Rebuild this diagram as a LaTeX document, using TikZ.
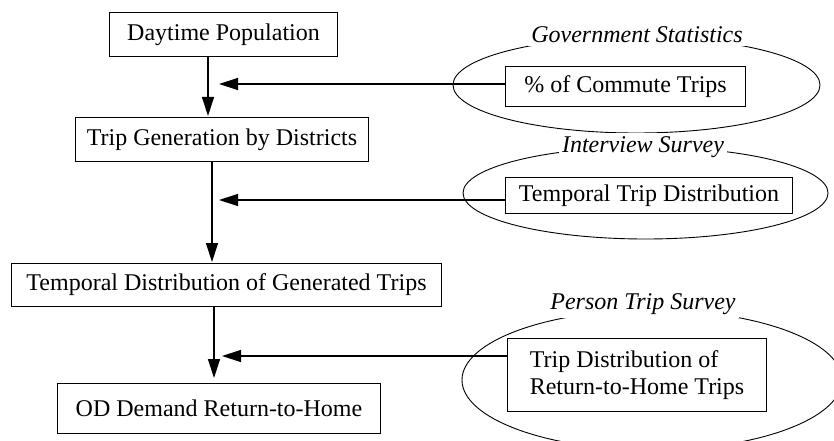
\documentclass[tikz,border=0pt]{standalone}
\usepackage{fontspec}
\setmainfont{Liberation Serif}
\usetikzlibrary{arrows.meta}
\begin{document}
\begin{tikzpicture}[x=1pt,y=-1pt,
  box/.style={draw,line width=1pt,font=\fontsize{24}{27}\selectfont,inner sep=0pt,anchor=north west},
  src/.style={font=\fontsize{24}{27}\selectfont\itshape,fill=white,inner sep=3pt},
  arr/.style={line width=1.3pt,-{Triangle[length=19pt,width=12pt]}},
  ell/.style={draw,line width=0.9pt}]
\useasboundingbox (0,0) rectangle (834,441);
% ellipses
\draw[ell] (636.5,85) ellipse [x radius=183.5,y radius=48];
\draw[ell] (645.5,193) ellipse [x radius=182.5,y radius=46];
\draw[ell] (652,380) ellipse [x radius=190,y radius=70];
\node[src] (l1) at (637,35) {Government Statistics};
\node[src] (l2) at (643,147) {Interview Survey};
\node[src] (l3) at (643,304) {Person Trip Survey};
% main boxes
\node[box,minimum width=228pt,minimum height=44pt] (b1) at (109,12) {Daytime Population};
\node[box,minimum width=293pt,minimum height=44pt] (b2) at (75,117) {Trip Generation by Districts};
\node[box,minimum width=430pt,minimum height=43pt] (b3) at (11,263) {Temporal Distribution of Generated Trips};
\node[box,minimum width=323pt,minimum height=50pt] (b4) at (57,383) {OD Demand Return-to-Home};
% source boxes
\node[box,minimum width=240pt,minimum height=40pt] (s1) at (505,66) {\% of Commute Trips};
\node[box,minimum width=287pt,minimum height=36pt] (s2) at (505,177) {Temporal Trip Distribution};
\node[box,minimum width=259pt,minimum height=73pt,align=left,inner xsep=16pt] (s3) at (507,338) {Trip Distribution of\\Return-to-Home Trips};
% coordinates
\coordinate (v1) at (208,116);
\coordinate (v2) at (212,262);
\coordinate (v3) at (214,378);
\coordinate (h1) at (219,84);
\coordinate (h2) at (219,200);
\coordinate (h3) at (222,356);
% connectors
\draw[arr] (b1.south -| v1) -- (v1);
\draw[arr] (b2.south -| v2) -- (v2);
\draw[arr] (b3.south -| v3) -- (v3);
\draw[arr] (s1.west |- h1) -- (h1);
\draw[arr] (s2.west |- h2) -- (h2);
\draw[arr] (s3.west |- h3) -- (h3);
\end{tikzpicture}
\end{document}
